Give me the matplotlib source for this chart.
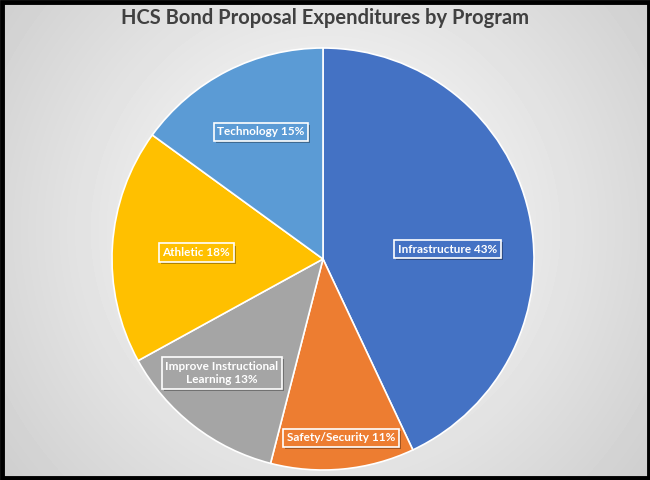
import matplotlib.pyplot as plt
import matplotlib.patheffects as pe
import numpy as np

programs = ['Infrastructure', 'Safety/Security', 'Improve Instructional\nLearning',
            'Athletic', 'Technology']
shares = [43, 11, 13, 18, 15]
colors = ['#4472C4', '#ED7D31', '#A5A5A5', '#FFC000', '#5B9BD5']

# label spots, relative to pie centre in units of radius
label_xy = [(0.590, 0.047), (0.085, -0.848), (-0.479, -0.540),
            (-0.600, 0.031), (-0.294, 0.602)]

fig = plt.figure(figsize=(6.5, 4.8), dpi=100)

# radial grey background
bg = fig.add_axes([0, 0, 1, 1])
yy, xx = np.mgrid[0:480, 0:650]
d = np.sqrt(((xx - 325) / 420.0) ** 2 + ((yy - 230) / 420.0) ** 2)
shade = 1.0 - 0.20 * np.clip(d, 0, 1) ** 1.1
bg.imshow(shade, cmap='gray', vmin=0, vmax=1, extent=[0, 650, 480, 0], aspect='auto')
bg.set_xlim(0, 650)
bg.set_ylim(480, 0)
bg.axis('off')
frame = plt.Rectangle((1.5, 1.5), 647, 476, fill=False, edgecolor='black', linewidth=3.5)
bg.add_patch(frame)

fig.text(0.5, 0.962, 'HCS Bond Proposal Expenditures by Program', ha='center', va='center',
         fontsize=14.5, fontweight='bold', color='#404040', family='Lato')

# pie centre (323, 259) px, radius 211 px
ax = fig.add_axes([(323 - 211) / 650, (480 - 259 - 211) / 480, 422 / 650, 422 / 480])
wedges, _ = ax.pie(shares, colors=colors, startangle=90, counterclock=False,
                   wedgeprops=dict(edgecolor='white', linewidth=1.2))
ax.set_xlim(-1, 1)
ax.set_ylim(-1, 1)
ax.set_aspect('auto')

for name, pct, col, (lx, ly) in zip(programs, shares, colors, label_xy):
    t = ax.text(lx, ly, '{} {}%'.format(name, pct), ha='center', va='center',
                color='white', fontsize=8.5, fontweight='bold', family='Lato',
                linespacing=1.3, multialignment='center',
                bbox=dict(boxstyle='square,pad=0.3', facecolor=col,
                          edgecolor='white', linewidth=1.2,
                          path_effects=[pe.SimplePatchShadow(offset=(1.5, -1.5), alpha=0.45),
                                        pe.Normal()]))

fig.savefig('out.png', dpi=100)
